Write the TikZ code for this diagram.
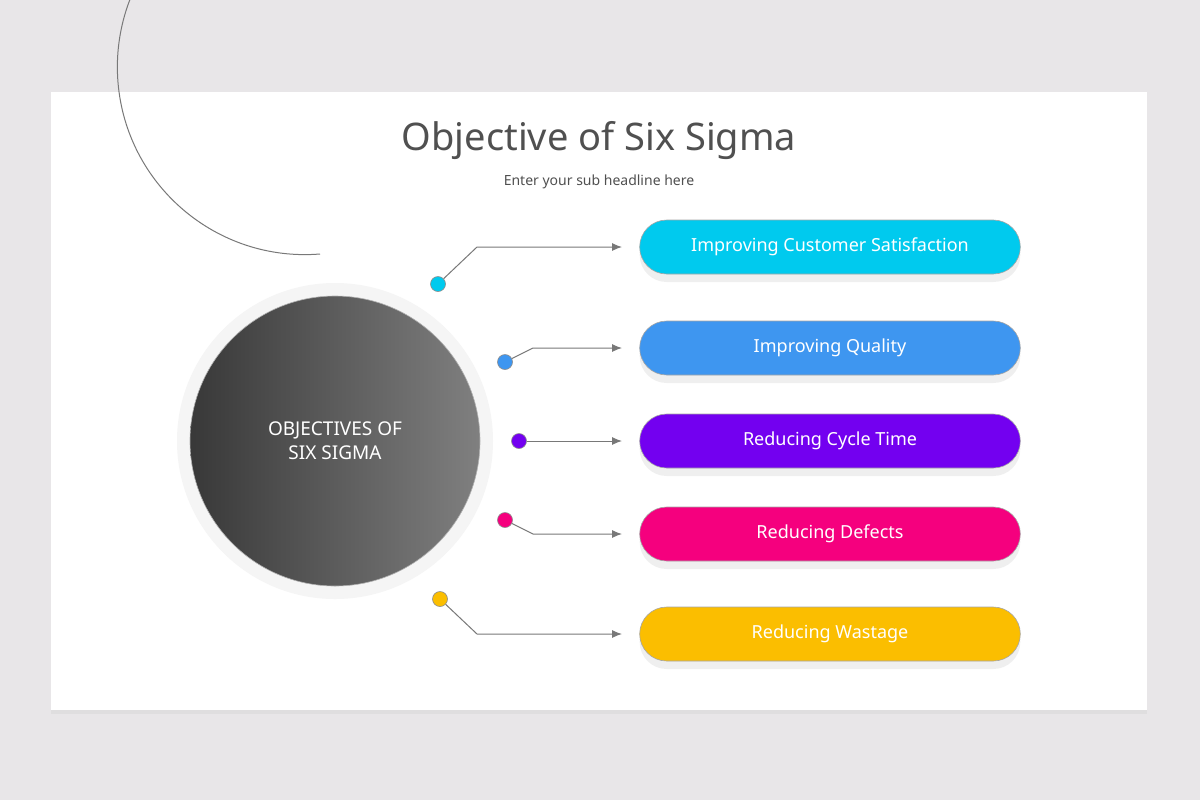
\documentclass[tikz,border=0pt]{standalone}
\usepackage{fontspec}
\setmainfont{Noto Sans}
\usepackage{xcolor}
\usetikzlibrary{shapes.geometric,shapes.misc,positioning,calc,shadows,arrows.meta}
\definecolor{backdrop}{RGB}{232,230,232}
\definecolor{customer}{RGB}{0,202,238}
\definecolor{quality}{RGB}{62,150,240}
\definecolor{cycle}{RGB}{115,0,240}
\definecolor{defects}{RGB}{245,0,126}
\definecolor{wastage}{RGB}{251,190,0}
\definecolor{titlegray}{RGB}{80,80,80}
\definecolor{linegray}{RGB}{120,120,120}
\tikzset{x=0.5pt}
\tikzset{y=-0.5pt}
\tikzstyle{pill}=[rounded rectangle,minimum width=197pt,minimum height=27pt,draw=black!35,line width=.3pt,text=white,font=\fontsize{9}{10}\selectfont,drop shadow={opacity=.12,shadow xshift=0pt,shadow yshift=-4pt}]
\tikzstyle{dot}=[circle,minimum size=7.5pt,inner sep=0pt,draw=black!45,line width=.3pt]
\tikzset{link/.style={-{Latex[length=5pt,width=4pt]},linegray,line width=.5pt}}
\newcommand{\objective}[4]{
  % #1 name, #2 y of pill, #3 colour, #4 text
  \draw (830,#2) node[pill,fill=#3] (#1) {#4};
  \coordinate (#1end) at (622,#2);
}
\begin{document}
\begin{tikzpicture}
  \useasboundingbox[fill=backdrop] (0,0) rectangle (1200,800);
  \fill[white,drop shadow={opacity=.08,shadow xshift=0pt,shadow yshift=-2pt}] (51,92) rectangle (1147,710);
  \draw (599,141) node[text=titlegray,font=\fontsize{19}{22}\selectfont] (title) {Objective of Six Sigma};
  \draw (599,182) node[text=titlegray,font=\fontsize{7}{8}\selectfont] (subtitle) {Enter your sub headline here};

  %% centre disc
  \fill[black!4] (335,441) circle (158);
  \draw (335,441) node[circle,minimum size=145pt,left color=black!78,right color=black!50,draw=black!30,line width=.3pt,text=white,align=center,font=\fontsize{9.5}{12}\selectfont] (core) {OBJECTIVES OF\\SIX SIGMA};
  \draw[linegray,line width=.5pt] (320,254) arc (-94.6:94.6:-187.6);

  %% pills
  \objective{O1}{247}{customer}{Improving Customer Satisfaction}
  \objective{O2}{348}{quality}{Improving Quality}
  \objective{O3}{441}{cycle}{Reducing Cycle Time}
  \objective{O4}{534}{defects}{Reducing Defects}
  \objective{O5}{634}{wastage}{Reducing Wastage}

  %% dots on the arc
  \draw (438,284) node[dot,fill=customer] (D1) {};
  \draw (505,362) node[dot,fill=quality] (D2) {};
  \draw (519,441) node[dot,fill=cycle] (D3) {};
  \draw (505,520) node[dot,fill=defects] (D4) {};
  \draw (440,599) node[dot,fill=wastage] (D5) {};
  \coordinate (B1) at (477,247);
  \coordinate (B2) at (533,348);
  \coordinate (B4) at (533,534);
  \coordinate (B5) at (477,634);

  \draw[link] (D1) -- (B1) -- (O1end);
  \draw[link] (D2) -- (B2) -- (O2end);
  \draw[link] (D3) -- (O3end);
  \draw[link] (D4) -- (B4) -- (O4end);
  \draw[link] (D5) -- (B5) -- (O5end);
\end{tikzpicture}
\end{document}
